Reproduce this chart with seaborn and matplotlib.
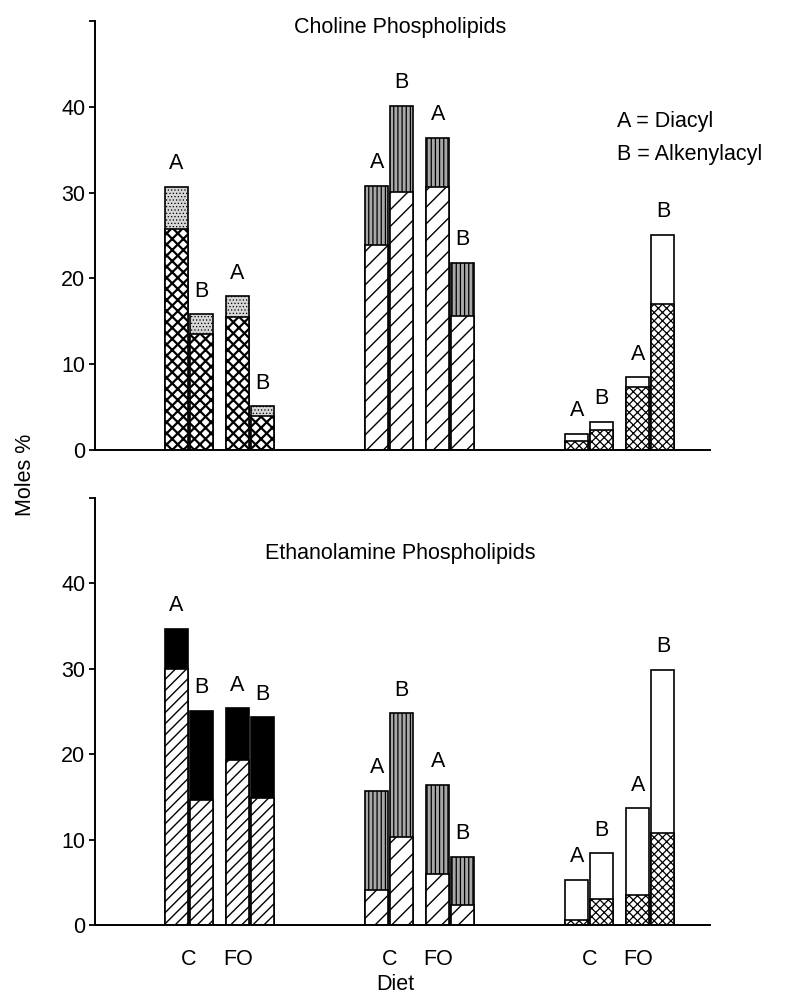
import itertools
import numpy as np
import pandas as pd
import matplotlib
matplotlib.use('Agg')
import matplotlib.pyplot as plt
import seaborn as sns

# values (moles %), order: group x diet x lipid
groups = [1, 2, 3]
diets = ['C', 'FO']
lipids = ['A', 'B']

choline_total = [30.7, 15.8, 17.9, 5.1, 30.8, 40.1, 36.4, 21.8, 1.9, 3.3, 8.5, 25.1]
choline_lower = [25.7, 13.5, 15.5, 4.0, 23.9, 30.1, 30.7, 15.6, 1.0, 2.3, 7.3, 17.0]
ethanol_total = [34.7, 25.1, 25.4, 24.3, 15.7, 24.8, 16.4, 8.0, 5.3, 8.4, 13.7, 29.9]
ethanol_lower = [30.0, 14.6, 19.3, 14.9, 4.1, 10.3, 6.0, 2.3, 0.6, 3.0, 3.5, 10.8]

yticks = [0, 10, 20, 30, 40, 50]
ytick_labels = ['0', '10', '20', '30', '40', '']

GROUP_STEP = 8.0
DIET_STEP = 2.44
BAR_W = 0.92
FS = 15.5

rows = []
for (gi, g), (di, d), (li, l) in itertools.product(enumerate(groups), enumerate(diets), enumerate(lipids)):
    rows.append({'group': g, 'diet': d, 'lipid': l,
                 'pos': gi * GROUP_STEP + di * DIET_STEP + li})
base = pd.DataFrame(rows)

choline = base.assign(total=choline_total, lower=choline_lower)
ethanol = base.assign(total=ethanol_total, lower=ethanol_lower)

# (color, hatch, hatch linewidth) for lower and upper segments, per group
choline_styles = {
    1: (('white', 'xxx', 1.6), ('#d6d6d6', '.....', 0.5)),
    2: (('white', '//', 1.0), ('#a8a8a8', '||||', 0.9)),
    3: (('white', 'xxxx', 0.9), ('white', '', 1.0)),
}
ethanol_styles = {
    1: (('white', '///', 1.0), ('black', '', 1.0)),
    2: (('white', '//', 1.0), ('#a8a8a8', '||||', 0.9)),
    3: (('white', 'xxxx', 0.9), ('white', '', 1.0)),
}

sns.set_theme(style='ticks')
plt.rcParams['font.family'] = ['Liberation Sans', 'DejaVu Sans']
plt.rcParams['font.size'] = FS
plt.rcParams['text.color'] = 'black'
plt.rcParams['xtick.color'] = 'black'
plt.rcParams['ytick.color'] = 'black'
plt.rcParams['hatch.linewidth'] = 1.0

fig = plt.figure(figsize=(7.92, 10), dpi=100)
ax_top = fig.add_axes([0.12, 0.55, 0.777, 0.429])
ax_bot = fig.add_axes([0.12, 0.075, 0.777, 0.427])


def draw_panel(ax, df, styles):
    for g in groups:
        sub = df[df['group'] == g]
        for col, (color, hatch, hlw) in zip(['total', 'lower'], styles[g][::-1]):
            n0 = len(ax.patches)
            sns.barplot(data=sub, x='pos', y=col, native_scale=True, width=BAR_W,
                        color=color, saturation=1, hatch=hatch, edgecolor='black',
                        linewidth=1.2, errorbar=None, ax=ax)
            for p in ax.patches[n0:]:
                if hasattr(p, 'set_hatch_linewidth'):
                    p.set_hatch_linewidth(hlw)
    for _, r in df.iterrows():
        ax.annotate(r['lipid'], (r['pos'], r['total']), xytext=(0, 9),
                    textcoords='offset points', ha='center', va='bottom', fontsize=FS)
    ax.set_ylim(0, 50)
    ax.set_xlim(-3.26, 21.34)
    ax.set_yticks(yticks)
    ax.set_yticklabels(ytick_labels)
    ax.set_xlabel('')
    ax.set_ylabel('')
    sns.despine(ax=ax)
    for s in ['left', 'bottom']:
        ax.spines[s].set_linewidth(1.4)
        ax.spines[s].set_color('black')
    ax.tick_params(axis='y', length=4, width=1.3, labelsize=FS, pad=3)
    ax.tick_params(axis='x', length=0, labelsize=FS, pad=17)


draw_panel(ax_top, choline, choline_styles)
draw_panel(ax_bot, ethanol, ethanol_styles)

# diet labels under each pair of bars
tick_pos, tick_lab = [], []
for gi, g in enumerate(groups):
    sub = base[base['group'] == g]
    for d in diets:
        pair = sub[sub['diet'] == d]['pos']
        shift = 0 if d == 'C' else -0.48
        tick_pos.append(pair.mean() + shift)
        tick_lab.append(d)
ax_top.set_xticks(tick_pos)
ax_top.set_xticklabels([''] * len(tick_pos))
ax_bot.set_xticks(tick_pos)
ax_bot.set_xticklabels(tick_lab)

ax_top.text(0.496, 0.984, 'Choline Phospholipids', transform=ax_top.transAxes,
            ha='center', va='center', fontsize=FS)
ax_bot.text(0.496, 0.871, 'Ethanolamine Phospholipids', transform=ax_bot.transAxes,
            ha='center', va='center', fontsize=FS)
ax_top.text(0.848, 0.765, 'A = Diacyl', transform=ax_top.transAxes,
            ha='left', va='center', fontsize=FS, clip_on=False)
ax_top.text(0.848, 0.688, 'B = Alkenylacyl', transform=ax_top.transAxes,
            ha='left', va='center', fontsize=FS, clip_on=False)

fig.text(0.032, 0.525, 'Moles %', rotation=90, ha='center', va='center', fontsize=FS)
fig.text(0.499, 0.015, 'Diet', ha='center', va='center', fontsize=FS)

fig.savefig('out.png', dpi=100)
